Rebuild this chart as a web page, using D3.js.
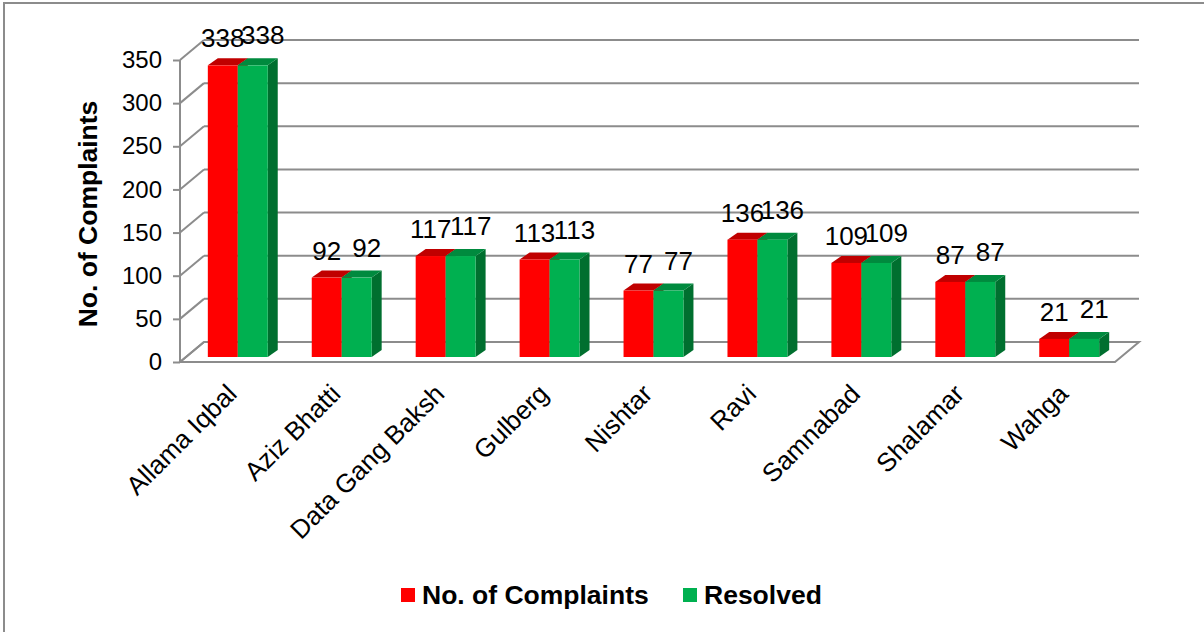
<!DOCTYPE html>
<html>
<head>
<meta charset="utf-8">
<script src="https://cdn.jsdelivr.net/npm/d3@7"></script>
<style>
  body { margin: 0; background: #fff; }
  svg { display: block; font-family: Arial, "Liberation Sans", sans-serif; }
</style>
</head>
<body>
<script>
// chart data
const towns = ["Allama Iqbal", "Aziz Bhatti", "Data Gang Baksh", "Gulberg", "Nishtar",
               "Ravi", "Samnabad", "Shalamar", "Wahga"];
const complaints = [338, 92, 117, 113, 77, 136, 109, 87, 21];
const resolved = [338, 92, 117, 113, 77, 136, 109, 87, 21];
const seriesNames = ["No. of Complaints", "Resolved"];
const yTicks = [0, 50, 100, 150, 200, 250, 300, 350];

const W = 1204, H = 632;
const depthX = 24, depthY = -20;   // wall depth
const barDX = 10, barDY = -7;      // bar depth
const shiftX = 6, shiftY = -5;     // bars sit a little behind the front

const colors = {
  front: ["#ff0000", "#00b050"],
  top: ["#c00000", "#008a3e"],
  side: ["#a00000", "#006f2f"]
};
const grid = "#8c8c8c";

const svg = d3.select("body").append("svg")
  .attr("width", W).attr("height", H);

// outer border
svg.append("rect").attr("x", 4).attr("y", 3)
  .attr("width", W + 10).attr("height", H + 10)
  .attr("fill", "#fff").attr("stroke", "#8c8c8c").attr("stroke-width", 2);

const x0 = d3.scaleBand().domain(towns).range([180, 1115])
  .paddingInner(0.4235).paddingOuter(0.21);
const x1 = d3.scaleBand().domain(seriesNames).range([0, x0.bandwidth()]);
const y = d3.scaleLinear().domain([0, 350]).range([362, 60]);

const left = 180, right = 1115;

// floor
svg.append("polygon")
  .attr("points", [[left, y(0)], [right, y(0)], [right + depthX, y(0) + depthY], [left + depthX, y(0) + depthY]].join(" "))
  .attr("fill", "#fff").attr("stroke", grid).attr("stroke-width", 2);

// back wall gridlines + side wall diagonals
const g = svg.append("g");
yTicks.forEach(function (t) {
  g.append("line")
    .attr("x1", left + depthX).attr("x2", right + depthX)
    .attr("y1", y(t) + depthY).attr("y2", y(t) + depthY)
    .attr("stroke", grid).attr("stroke-width", 2);
  g.append("line")
    .attr("x1", left).attr("x2", left + depthX)
    .attr("y1", y(t)).attr("y2", y(t) + depthY)
    .attr("stroke", grid).attr("stroke-width", 2);
});

// y axis
const yAxis = d3.axisLeft(y).tickValues(yTicks).tickSize(7).tickPadding(11);
const ya = svg.append("g").attr("transform", "translate(" + left + ",0)").call(yAxis);
ya.select(".domain").attr("stroke", grid).attr("stroke-width", 2).attr("d", "M0," + y(0) + "V" + y(350));
ya.selectAll(".tick line").attr("stroke", grid).attr("stroke-width", 2);
ya.selectAll(".tick text").attr("font-size", 24).attr("fill", "#000")
  .attr("font-family", "Arial, 'Liberation Sans', sans-serif");

// bars
const series = [complaints, resolved];
const bars = svg.append("g");
towns.forEach(function (town, i) {
  seriesNames.forEach(function (s, k) {
    const v = series[k][i];
    const bx = x0(town) + x1(s) + shiftX;
    const bw = x1.bandwidth();
    const yb = y(0) + shiftY;
    const yt = y(v) + shiftY;
    // side
    bars.append("polygon")
      .attr("points", [[bx + bw, yb], [bx + bw + barDX, yb + barDY], [bx + bw + barDX, yt + barDY], [bx + bw, yt]].join(" "))
      .attr("fill", colors.side[k]);
    // top
    bars.append("polygon")
      .attr("points", [[bx, yt], [bx + bw, yt], [bx + bw + barDX, yt + barDY], [bx + barDX, yt + barDY]].join(" "))
      .attr("fill", colors.top[k]);
    // front
    bars.append("rect")
      .attr("x", bx).attr("y", yt).attr("width", bw).attr("height", yb - yt)
      .attr("fill", colors.front[k]);
  });
});

// value labels
const labels = svg.append("g").attr("font-size", 26).attr("fill", "#000").attr("text-anchor", "middle");
towns.forEach(function (town, i) {
  seriesNames.forEach(function (s, k) {
    const v = series[k][i];
    const cx = x0(town) + x1(s) + shiftX + x1.bandwidth() / 2 + (k === 1 ? 10 : 0);
    const cy = y(v) + shiftY - (k === 1 ? 30 : 27);
    labels.append("text")
      .attr("x", cx).attr("y", cy).attr("dy", "0.35em")
      .text(v);
  });
});

// x labels
const xl = svg.append("g").attr("font-size", 26).attr("fill", "#000").attr("text-anchor", "end");
towns.forEach(function (town) {
  const cx = x0(town) + x0.bandwidth() / 2;
  xl.append("text")
    .attr("transform", "translate(" + cx + ",389) rotate(-45)")
    .attr("dy", "0.35em")
    .text(town);
});

// y title
svg.append("text")
  .attr("transform", "translate(97,214) rotate(-90)")
  .attr("text-anchor", "middle")
  .attr("font-size", 26.5).attr("font-weight", "bold")
  .text("No. of Complaints");

// legend
const legend = svg.append("g").attr("font-size", 26.5).attr("font-weight", "bold");
const legX = [401, 683];
seriesNames.forEach(function (s, k) {
  legend.append("rect").attr("x", legX[k]).attr("y", 588).attr("width", 14).attr("height", 14)
    .attr("fill", colors.front[k]);
  legend.append("text").attr("x", legX[k] + 21).attr("y", 604).text(s);
});
</script>
</body>
</html>
